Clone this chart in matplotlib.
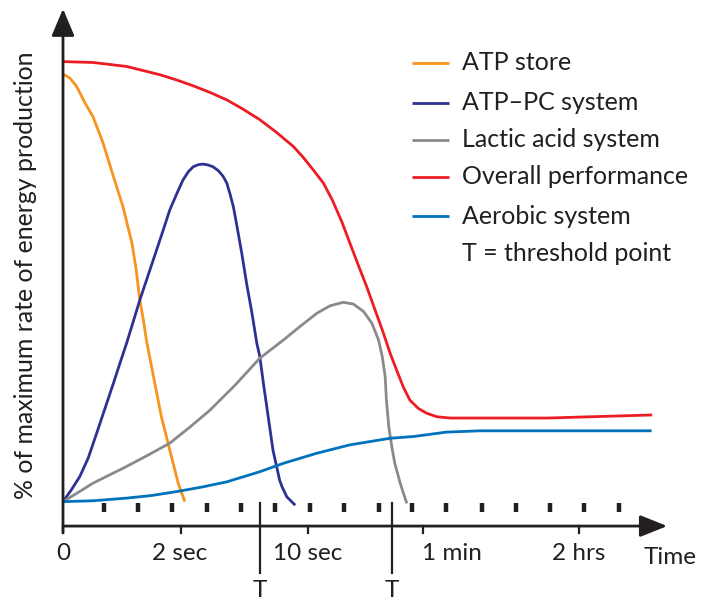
import matplotlib.pyplot as plt

plt.rcParams['font.family'] = ['Lato', 'DejaVu Sans']

# x = position along the time axis (arbitrary units, 0 = start of exercise)
# y = % of maximum rate of energy production
atp_x = [0, 1.2, 2.3, 3.7, 5, 6.7, 8.4, 10, 11.5, 12.2, 12.8, 13.4, 13.9, 14.6, 15.3,
         16.4, 17.8, 19.2, 20.3]
atp_y = [97.5, 96.5, 94.6, 90.8, 87.8, 81.7, 74.2, 67.3, 59, 53, 46.1, 41.6, 37, 32.1, 27.2,
         19.6, 12, 4.5, 0.3]

atppc_x = [0, 1.4, 2.8, 4.2, 5.6, 7, 8.4, 9.5, 10.6, 11.7, 12.8, 14.2, 15.6, 16.7, 17.8,
           19, 20, 20.9, 21.7, 22.6, 23.4, 24.2, 25, 25.9, 26.7, 27.3, 27.8, 28.4, 28.9,
           29.8, 30.6, 31.5, 32.3, 32.8, 33.4, 34.2, 35, 35.6, 36.1, 36.5, 37.3, 38.7]
atppc_y = [0.3, 3, 6, 10.2, 15.8, 21.5, 27.2, 31.8, 36.3, 41.2, 46.1, 51.8, 57.5, 62, 66.6,
           70.4, 73.4, 75.3, 76.4, 76.9, 77, 76.8, 76.4, 75.5, 74.2, 72.7, 70.4, 67.3, 63.6,
           56.7, 49.9, 43.1, 36.3, 33.3, 27.2, 19.6, 12, 8.3, 5.2, 3.7, 1.4, -0.5]

lactic_x = [0, 2.3, 5, 7.8, 10.6, 14.2, 17.8, 21.2, 24.5, 28.7, 32.8, 36.7, 39.5, 42.3,
            44.5, 46.7, 48.4, 50.1, 51.5, 52.6, 53.2, 53.7, 53.9, 54.3, 54.8, 55.3, 56.2, 57.3]
lactic_y = [0.3, 2.2, 4.5, 6.4, 8.3, 10.9, 13.6, 17.3, 21.1, 26.8, 32.9, 37, 40.1, 43.1,
            44.8, 45.6, 45.2, 43.5, 40.8, 37, 33.3, 28.7, 23.4, 17.3, 12.8, 9, 4.5, -0.1]

overall_x = [0, 5, 10.6, 16.2, 19, 21.7, 24.5, 27.3, 30, 32.8, 35.6, 38.4, 40, 41.7, 43.4,
             44.9, 46.5, 47.8, 49.2, 50.6, 52, 53.4, 54.5, 55.6, 56.7, 57.8, 59.2, 60.6,
             62.3, 64.5, 69.5, 80.7, 98.2]
overall_y = [100.3, 100.1, 99.2, 97.3, 96.1, 94.8, 93.3, 91.6, 89.5, 87.1, 84.2, 81, 78.6,
             75.7, 72.7, 68.8, 63.8, 59.1, 54.1, 49.2, 43.9, 38.6, 34.1, 30.2, 26.4, 23.4,
             21.5, 20.4, 19.6, 19.3, 19.3, 19.3, 20]

aerobic_x = [0, 5, 10.6, 14.8, 19, 23.1, 27.3, 32.8, 36.7, 42.3, 47.8, 54.5, 58.4, 63.9,
             69.5, 98.1]
aerobic_y = [0.3, 0.5, 1.1, 1.7, 2.6, 3.6, 4.8, 7.1, 9, 11.3, 13.2, 14.7, 15.1, 16.1,
             16.4, 16.4]

series = [
    ('ATP store', atp_x, atp_y, '#F7941D'),
    ('ATP–PC system', atppc_x, atppc_y, '#2E3192'),
    ('Lactic acid system', lactic_x, lactic_y, '#8A8A8C'),
    ('Overall performance', overall_x, overall_y, '#ED1C24'),
    ('Aerobic system', aerobic_x, aerobic_y, '#0072BC'),
]

tick_pos = [0, 19.7, 40.8, 60, 86]
tick_label_pos = [0, 19.5, 40.7, 64.8, 86]
tick_labels = ['0', '2 sec', '10 sec', '1 min', '2 hrs']
threshold_pos = [32.8, 54.8]
dash_pos = [6.8, 12.5, 18.2, 24, 29.7, 35.3, 41.2, 46.8, 52.6, 58.2, 63.8, 69.8,
            75.5, 81.2, 86.9, 92.7]

ink = '#231F20'
fs = 17.5

fig = plt.figure(figsize=(7.02, 6.0), dpi=100)
ax = fig.add_axes([0, 0, 1, 1])
ax.set_xlim(-10.5, 106.5)
ax.set_ylim(-22.05, 114.3)
ax.axis('off')

# curves
for label, xs, ys, col in series:
    ax.plot(xs, ys, color=col, lw=2.0, solid_capstyle='butt', solid_joinstyle='round')

# axes with arrow heads
y_axis = -5.25
ax.annotate('', xy=(0, 112.3), xytext=(0, -6.8),
            arrowprops=dict(arrowstyle='-|>,head_length=0.9,head_width=0.38',
                            mutation_scale=18.5, lw=2.0, color=ink,
                            shrinkA=0, shrinkB=0))
ax.annotate('', xy=(100.7, y_axis), xytext=(0, y_axis),
            arrowprops=dict(arrowstyle='-|>,head_length=0.9,head_width=0.36',
                            mutation_scale=18.5, lw=2.0, color=ink,
                            shrinkA=0, shrinkB=0))

# ticks below axis and labels
for p in tick_pos:
    ax.plot([p, p], [y_axis, -6.8], color=ink, lw=1.6)
for p, lab in zip(tick_label_pos, tick_labels):
    ax.text(p, -11.4, lab, ha='center', va='center', fontsize=fs, color=ink)

ax.text(101.2, -12.3, 'Time', ha='center', va='center', fontsize=fs, color=ink)

# small dashes along the baseline
ax.vlines(dash_pos, -2.05, 0, color=ink, lw=3.2)

# threshold lines
for p in threshold_pos:
    ax.plot([p, p], [0, -15.9], color=ink, lw=1.6)
    ax.text(p, -19.8, 'T', ha='center', va='center', fontsize=fs, color=ink)

# y label
ax.text(-6.3, 51.8, '% of maximum rate of energy production', rotation=90,
        ha='center', va='center', fontsize=17.9, color=ink)

# legend
leg_y = [100, 90.9, 82.5, 74.1, 65.2]
for (label, xs, ys, col), ly in zip(series, leg_y):
    ax.plot([58.2, 64.3], [ly, ly], color=col, lw=2.0, solid_capstyle='butt')
    ax.text(66.5, ly, label, ha='left', va='center', fontsize=18, color=ink)
ax.text(66.5, 56.8, 'T = threshold point', ha='left', va='center', fontsize=18, color=ink)

fig.savefig('out.png', dpi=100)
